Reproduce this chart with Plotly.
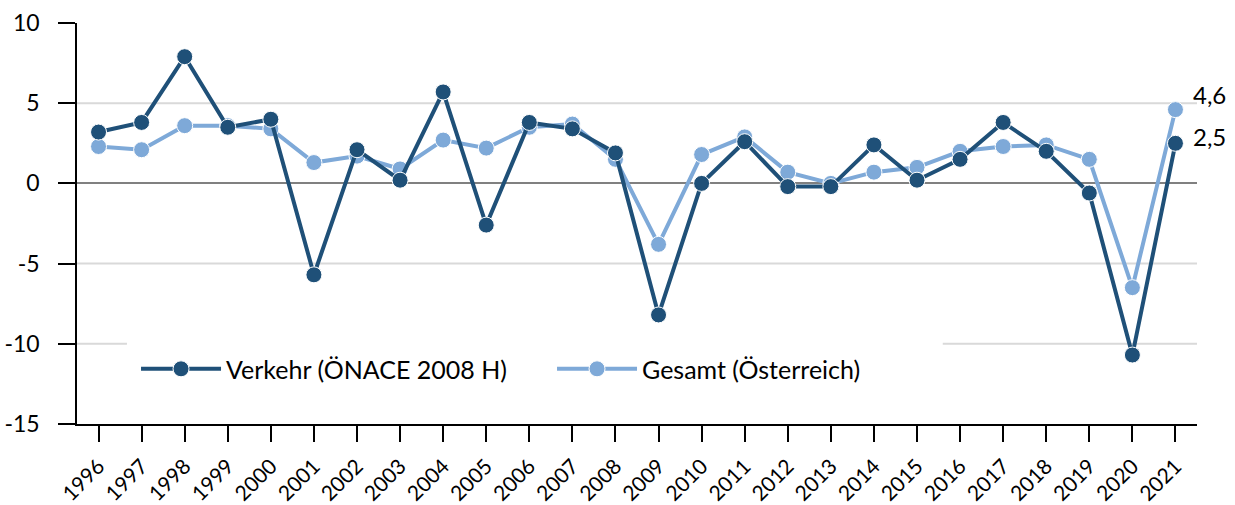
import plotly.graph_objects as go

years = [str(y) for y in range(1996, 2022)]
verkehr = [3.2, 3.8, 7.9, 3.5, 4.0, -5.7, 2.1, 0.2, 5.7, -2.6, 3.8, 3.4, 1.9, -8.2,
           0.0, 2.6, -0.2, -0.2, 2.4, 0.2, 1.5, 3.8, 2.0, -0.6, -10.7, 2.5]
gesamt = [2.3, 2.1, 3.6, 3.6, 3.4, 1.3, 1.7, 0.9, 2.7, 2.2, 3.5, 3.7, 1.5, -3.8,
          1.8, 2.9, 0.7, 0.0, 0.7, 1.0, 2.0, 2.3, 2.4, 1.5, -6.5, 4.6]
name_verkehr = "Verkehr (ÖNACE 2008 H)"
name_gesamt = "Gesamt (Österreich)"
grid_values = [5, -5]
grid_behind_legend = -10
y_ticks = [10, 5, 0, -5, -10, -15]
y_ticktext = ["10", "5", "0", "-5", "-10", "-15"]
label_last_gesamt = "4,6"
label_last_verkehr = "2,5"

DARK = "#1F5078"
LIGHT = "#7EA9D8"
GRID = "#D9D9D9"
FONT = "Lato, 'Open Sans', sans-serif"

fig = go.Figure()
fig.add_trace(go.Scatter(
    x=years, y=gesamt, name=name_gesamt, mode="lines+markers",
    line=dict(color=LIGHT, width=4),
    marker=dict(size=16, color=LIGHT, line=dict(color="white", width=1)),
))
fig.add_trace(go.Scatter(
    x=years, y=verkehr, name=name_verkehr, mode="lines+markers",
    line=dict(color=DARK, width=4),
    marker=dict(size=16, color=DARK, line=dict(color="white", width=1)),
))

for gv in grid_values:
    fig.add_shape(type="line", xref="paper", yref="y", x0=0, x1=1, y0=gv, y1=gv,
                  line=dict(color=GRID, width=2), layer="below")
# the -10 gridline is interrupted by the legend box
for x0, x1 in [(0, 0.0446), (0.773, 1)]:
    fig.add_shape(type="line", xref="paper", yref="y", x0=x0, x1=x1,
                  y0=grid_behind_legend, y1=grid_behind_legend,
                  line=dict(color=GRID, width=2), layer="below")

last = len(years) - 1
fig.add_annotation(x=last, y=gesamt[-1], text=label_last_gesamt, showarrow=False,
                   xanchor="left", xshift=16, yshift=15,
                   font=dict(size=24, color="black", family=FONT))
fig.add_annotation(x=last, y=verkehr[-1], text=label_last_verkehr, showarrow=False,
                   xanchor="left", xshift=16, yshift=7,
                   font=dict(size=24, color="black", family=FONT))

fig.update_layout(
    width=1235, height=505,
    margin=dict(l=77, r=38, t=23, b=81),
    paper_bgcolor="white", plot_bgcolor="white",
    font=dict(family=FONT, color="black", size=20),
    legend=dict(orientation="h", x=0.0527, y=0.137, xanchor="left", yanchor="middle",
                bgcolor="rgba(0,0,0,0)", font=dict(size=25), traceorder="reversed",
                entrywidth=321, itemwidth=80),
    showlegend=True,
)
fig.update_xaxes(type="category", range=[-0.5, len(years) - 0.5], showgrid=False,
                 showline=True, linecolor="black", linewidth=1.5, ticks="outside",
                 ticklen=16, tickwidth=1.5, tickcolor="black", tickangle=-45,
                 tickfont=dict(size=21), ticklabelstandoff=4, zeroline=False,
                 automargin=False, ticklabeloverflow="allow")
fig.update_yaxes(range=[-15, 10], tickvals=y_ticks, ticktext=y_ticktext, showgrid=False,
                 showline=True, linecolor="black", linewidth=1.5, ticks="outside",
                 ticklen=17, tickwidth=1.5, tickcolor="black", tickfont=dict(size=23),
                 ticklabelstandoff=14, zeroline=True, zerolinecolor="#808080",
                 zerolinewidth=2, automargin=False, ticklabeloverflow="allow")

# remove the browser's default 8px body margin so the figure fills the window
fig.write_html("out.html", config={"displayModeBar": False},
               post_script="document.body.style.margin='0px';")
